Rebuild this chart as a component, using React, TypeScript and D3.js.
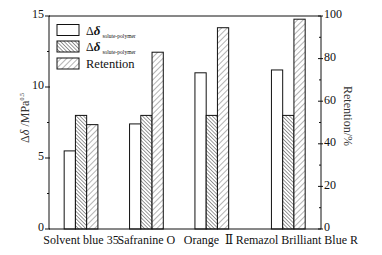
import React from "react";
import * as d3 from "d3";

const categories = ["Solvent blue 35", "Safranine O", "Orange  \u2161", "Remazol Brilliant Blue R"];
const categoryPos = [1, 2, 3, 4.17];
const labelPos = [1, 2, 2.95, 4.3];
const deltaOpen = [5.5, 7.4, 11.0, 11.2];
const deltaHatched = [8.0, 8.0, 8.0, 8.0];
const retention = [49, 83, 94.5, 98.5];
const leftTicks = [0, 5, 10, 15];
const leftMinor = [2.5, 7.5, 12.5];
const rightTicks = [0, 20, 40, 60, 80, 100];
const rightMinor = [10, 30, 50, 70, 90];

const W = 382, H = 255;
const L = 49, R = 321, T = 16, B = 229;
const font = "Liberation Serif, Times New Roman, Times, DejaVu Serif, serif";

export default function App() {
  const x = d3.scaleLinear().domain([0.51, 4.67]).range([L, R]);
  const yL = d3.scaleLinear().domain([0, 15]).range([B, T]);
  const yR = d3.scaleLinear().domain([0, 100]).range([B, T]);
  const bw = x(0.172) - x(0);

  const series = [
    { vals: deltaOpen, scale: yL, fill: "#fff", off: -1.5 },
    { vals: deltaHatched, scale: yL, fill: "url(#pBack)", off: -0.5 },
    { vals: retention, scale: yR, fill: "url(#pFwd)", off: 0.5 },
  ];
  const ts = { fontFamily: font };

  return (
    <svg width={W} height={H} style={{ position: "absolute", left: 0, top: 0, background: "#fff", fontFamily: font }}>
      <defs>
        <pattern id="pBack" patternUnits="userSpaceOnUse" width={2.6} height={2.6} patternTransform="rotate(-45)">
          <rect width={2.6} height={2.6} fill="#fff" />
          <line x1={0} y1={0} x2={0} y2={2.6} stroke="#333" strokeWidth={1} />
        </pattern>
        <pattern id="pFwd" patternUnits="userSpaceOnUse" width={4} height={4} patternTransform="rotate(45)">
          <rect width={4} height={4} fill="#fff" />
          <line x1={0} y1={0} x2={0} y2={4} stroke="#444" strokeWidth={0.8} />
        </pattern>
      </defs>

      {series.map((s, si) =>
        s.vals.map((v, i) => {
          const cx = x(categoryPos[i]);
          const x0 = cx + s.off * bw;
          const yy = s.scale(v);
          return (
            <rect key={`${si}-${i}`} x={x0} y={yy} width={bw} height={B - yy}
              fill={s.fill} stroke="#111" strokeWidth={1} />
          );
        })
      )}

      <line x1={L} y1={T} x2={R} y2={T} stroke="#111" strokeWidth={1} />
      <line x1={L} y1={B} x2={R} y2={B} stroke="#111" strokeWidth={1} />
      <line x1={L} y1={T} x2={L} y2={B} stroke="#111" strokeWidth={1} />
      <line x1={R} y1={T} x2={R} y2={B} stroke="#111" strokeWidth={1} />

      {leftTicks.map((t) => (
        <g key={`lt${t}`}>
          <line x1={L - 4} x2={L + 1} y1={yL(t)} y2={yL(t)} stroke="#111" />
          <text style={ts} x={L - 5} y={yL(t)} dy="0.2em" textAnchor="end" fontSize={12} fill="#111">{t}</text>
        </g>
      ))}
      {leftMinor.map((t) => (
        <line key={`lm${t}`} x1={L - 2} x2={L} y1={yL(t)} y2={yL(t)} stroke="#111" />
      ))}

      {rightTicks.map((t) => (
        <g key={`rt${t}`}>
          <line x1={R - 3} x2={R + 2} y1={yR(t)} y2={yR(t)} stroke="#111" />
          <text style={ts} x={R + 3} y={yR(t)} dy="0.2em" textAnchor="start" fontSize={12} fill="#111">{t}</text>
        </g>
      ))}
      {rightMinor.map((t) => (
        <line key={`rm${t}`} x1={R - 2} x2={R} y1={yR(t)} y2={yR(t)} stroke="#111" />
      ))}

      {categories.map((c, i) => (
        <text key={c} style={{ ...ts, whiteSpace: "pre" }} x={x(labelPos[i])} y={244} textAnchor="middle" fontSize={12} fill="#111">{c}</text>
      ))}

      <text style={ts} transform={`translate(29,118) rotate(-90)`} textAnchor="middle" fontSize={12} fill="#333">
        <tspan>{"\u0394"}</tspan><tspan fontStyle="italic">{"\u03b4"}</tspan><tspan>{" /MPa"}</tspan>
        <tspan fontSize={6} dy={-5}>0.5</tspan>
      </text>
      <text style={ts} transform={`translate(344,116) rotate(90)`} textAnchor="middle" fontSize={12} fill="#333">
        Retention/%
      </text>

      {[
        { fill: "#fff", y: 24.5, label: "d" },
        { fill: "url(#pBack)", y: 41, label: "d" },
        { fill: "url(#pFwd)", y: 58, label: "r" },
      ].map((e, i) => (
        <g key={`lg${i}`}>
          <rect x={57} y={e.y} width={22} height={11} fill={e.fill} stroke="#111" strokeWidth={1} />
          {e.label === "d" ? (
            <text style={ts} x={86} y={e.y + 10} fontSize={12} fill="#111">
              <tspan>{"\u0394"}</tspan>
              <tspan fontStyle="italic" fontWeight="bold" fontSize={13}>{"\u03b4"}</tspan>
              <tspan fontSize={5.5} dx={2} dy={3}>solute-polymer</tspan>
            </text>
          ) : (
            <text style={ts} x={86} y={e.y + 10} fontSize={12.5} fill="#111">Retention</text>
          )}
        </g>
      ))}
    </svg>
  );
}
